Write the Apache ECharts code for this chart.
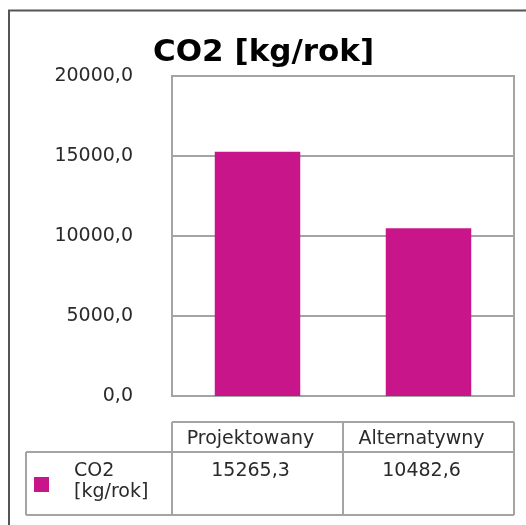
<!DOCTYPE html>
<html>
<head>
<meta charset="utf-8">
<style>
  html, body { margin: 0; padding: 0; background: #fff; }
  #chart { width: 526px; height: 525px; }
</style>
<script src="https://cdn.jsdelivr.net/npm/echarts@6/dist/echarts.min.js"></script>
</head>
<body>
<div id="chart"></div>
<script>
// data
var categories = ['Projektowany', 'Alternatywny'];
var co2Values = [15265.3, 10482.6];
var seriesName = 'CO2 [kg/rok]';
var legendLines = ['CO2', '[kg/rok]'];
var yTicks = [0, 5000, 10000, 15000, 20000];

var barColor = '#C8168A';
var gridColor = '#a4a4a4';
var textColor = '#2a2a2a';
var font = 'DejaVu Sans';

function fmt(v) {
  return v.toFixed(1).replace('.', ',');
}

var myChart = echarts.init(document.getElementById('chart'));
var option = {
  animation: false,
  backgroundColor: '#fff',
  title: {
    text: seriesName,
    left: 153,
    top: 37,
    padding: 0,
    textStyle: {
      fontFamily: font,
      fontSize: 31,
      fontWeight: 'bold',
      color: '#000'
    }
  },
  grid: {
    left: 172,
    top: 76,
    right: 12,
    bottom: 129,
    show: true,
    borderColor: gridColor,
    borderWidth: 2
  },
  xAxis: {
    type: 'category',
    data: categories,
    axisLine: { show: false },
    axisTick: { show: false },
    axisLabel: { show: false }
  },
  yAxis: {
    type: 'value',
    min: yTicks[0],
    max: yTicks[yTicks.length - 1],
    interval: yTicks[1] - yTicks[0],
    axisLine: { show: false },
    axisTick: { show: false },
    splitLine: { lineStyle: { color: gridColor, width: 2 } },
    axisLabel: {
      margin: 39,
      padding: [6, 0, 0, 0],
      fontFamily: font,
      fontSize: 19,
      color: textColor,
      formatter: function (v) { return fmt(v); }
    }
  },
  series: [
    {
      name: seriesName,
      type: 'bar',
      barWidth: '50%',
      itemStyle: { color: barColor },
      data: co2Values
    }
  ]
};
myChart.setOption(option);

// data table under the plot, placed from the axes
var c0 = myChart.convertToPixel({ xAxisIndex: 0 }, categories[0]);
var c1 = myChart.convertToPixel({ xAxisIndex: 0 }, categories[1]);
var band = c1 - c0;
var xl = c0 - band / 2, xm = c0 + band / 2, xr = c1 + band / 2;
var y0 = myChart.convertToPixel({ yAxisIndex: 0 }, 0);
var rowTop = y0 + 26, rowMid = y0 + 56, rowBot = y0 + 119;
var tableLeft = 26;

function line(x1, y1, x2, y2) {
  return { type: 'line', shape: { x1: x1, y1: y1, x2: x2, y2: y2 },
    style: { stroke: gridColor, lineWidth: 2 } };
}
function txt(x, y, s, align) {
  return { type: 'text', x: x, y: y,
    style: { text: s, fill: textColor, font: '19px "' + font + '"',
      textAlign: align || 'center', textVerticalAlign: 'top' } };
}

var els = [
  // outer frame
  { type: 'rect', shape: { x: 9, y: 10.5, width: 600, height: 600 },
    style: { fill: null, stroke: '#555', lineWidth: 2 } },
  line(xl, rowTop, xr, rowTop),
  line(tableLeft, rowMid, xr, rowMid),
  line(tableLeft, rowMid, tableLeft, rowBot),
  line(tableLeft, rowBot, xr, rowBot),
  line(xl, rowTop, xl, rowBot),
  line(xm, rowTop, xm, rowBot),
  line(xr, rowTop, xr, rowBot),
  { type: 'rect', shape: { x: 34, y: rowMid + 25, width: 15, height: 15 },
    style: { fill: barColor } },
  txt(74, rowMid + 10, legendLines[0], 'left'),
  txt(74, rowMid + 31, legendLines[1], 'left')
];
var centers = [c0, c1];
for (var i = 0; i < categories.length; i++) {
  els.push(txt(centers[i] - 7, rowTop + 8, categories[i]));
  els.push(txt(centers[i] - 7, rowMid + 10, fmt(co2Values[i])));
}
myChart.setOption({ graphic: { elements: els } });
</script>
</body>
</html>
